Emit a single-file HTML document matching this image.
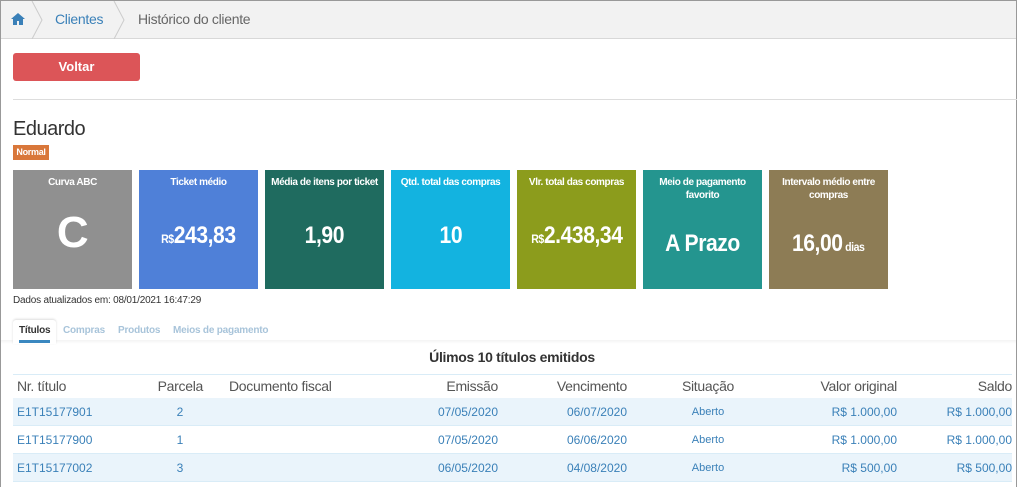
<!DOCTYPE html>
<html><head><meta charset="utf-8"><style>
*{margin:0;padding:0;box-sizing:border-box}
body{width:1024px;height:487px;overflow:hidden;background:#fff;font-family:"Liberation Sans",sans-serif;position:relative;color:#333}
.frame{position:absolute;left:0;top:0;width:1017px;height:487px;border:1px solid #999;border-bottom:none}
.bc{position:absolute;left:1px;top:1px;width:1015px;height:38px;background:#f2f2f2;border-bottom:1px solid #d8d8d8}
.a{position:absolute;font-size:14px;letter-spacing:-0.3px}
.card{position:absolute;top:170px;width:119px;height:119px;color:#fff;text-align:center}
.card .t{font-size:10px;font-weight:bold;margin-top:6px;line-height:13px;padding:0 6px;letter-spacing:-0.4px}
.card .v{position:absolute;left:0;right:0;font-weight:bold;font-size:24px;letter-spacing:-0.5px}
.card .v span{display:inline-block;transform:scaleX(.88)}
.card small{font-size:12px}
.row{position:absolute;left:13px;width:999px;height:28px;border-bottom:1px solid #d9ecf7}
.c{position:absolute;font-size:12px;color:#3a80b8;line-height:28px}
.h{position:absolute;font-size:14px;color:#555;line-height:23px;letter-spacing:-0.3px}
.tab{position:absolute;top:325px;font-size:10px;font-weight:bold;color:#a8c4da;letter-spacing:-0.2px}
</style></head><body>
<div class="frame"></div>
<div class="bc">
<svg style="position:absolute;left:10px;top:12px" width="14" height="12" viewBox="0 0 14 12"><path d="M7 0L0 6h2v6h4V8h2v4h4V6h2z" fill="#3a80b8"/></svg>
<svg style="position:absolute;left:30px;top:0" width="12" height="38"><path d="M1 0L11 19L1 38" stroke="#ccc" fill="none"/></svg>
<div class="a" style="left:54px;top:10px;color:#3a80b8">Clientes</div>
<svg style="position:absolute;left:112px;top:0" width="12" height="38"><path d="M1 0L11 19L1 38" stroke="#ccc" fill="none"/></svg>
<div class="a" style="left:137px;top:10px;color:#666">Histórico do cliente</div>
</div>
<div style="position:absolute;left:13px;top:53px;width:127px;height:28px;background:#dc5558;border-radius:3px;color:#fff;font-weight:bold;font-size:13px;text-align:center;line-height:28px">Voltar</div>
<div style="position:absolute;left:13px;top:99px;width:1004px;height:1px;background:#ddd"></div>
<div style="position:absolute;left:13px;top:118px;font-size:20px;color:#333;letter-spacing:-0.5px">Eduardo</div>
<div style="position:absolute;left:13px;top:145px;width:36px;height:15px;background:#d9773a;color:#fff;font-size:9px;font-weight:bold;line-height:15px;text-align:center;letter-spacing:-0.3px">Normal</div>
<div class="card" style="left:13px;background:#909090"><div class="t">Curva ABC</div><div class="v" style="top:38px;font-size:44px">C</div></div>
<div class="card" style="left:139px;background:#4f80d8"><div class="t">Ticket médio</div><div class="v" style="top:52px"><span><small>R$</small>243,83</span></div></div>
<div class="card" style="left:265px;background:#1f6b5f"><div class="t">Média de itens por ticket</div><div class="v" style="top:52px"><span>1,90</span></div></div>
<div class="card" style="left:391px;background:#13b3e0"><div class="t">Qtd. total das compras</div><div class="v" style="top:52px"><span>10</span></div></div>
<div class="card" style="left:517px;background:#8c9c1c"><div class="t">Vlr. total das compras</div><div class="v" style="top:52px"><span><small>R$</small>2.438,34</span></div></div>
<div class="card" style="left:643px;background:#24958f"><div class="t">Meio de pagamento favorito</div><div class="v" style="top:60px"><span>A Prazo</span></div></div>
<div class="card" style="left:769px;background:#8d7c55"><div class="t">Intervalo médio entre compras</div><div class="v" style="top:60px"><span>16,00<small> dias</small></span></div></div>
<div style="position:absolute;left:13px;top:295px;font-size:10px;color:#333;letter-spacing:-0.2px">Dados atualizados em: 08/01/2021 16:47:29</div>
<div style="position:absolute;left:1px;top:340px;width:1015px;height:4px;background:linear-gradient(#f4f4f4,#fff)"></div>
<div style="position:absolute;left:13px;top:320px;width:43px;height:24px;background:#fff;border-radius:3px 3px 0 0;box-shadow:0 -1px 2px #ddd"></div>
<div class="tab" style="left:19px;color:#333">Títulos</div>
<div style="position:absolute;left:19px;top:340px;width:31px;height:3px;background:#3a88c0"></div>
<div class="tab" style="left:63px">Compras</div>
<div class="tab" style="left:118px">Produtos</div>
<div class="tab" style="left:173px">Meios de pagamento</div>
<div style="position:absolute;left:0;width:1024px;top:349px;text-align:center;font-size:14px;font-weight:bold;color:#333;letter-spacing:-0.3px">Úlimos 10 títulos emitidos</div>
<div style="position:absolute;left:13px;top:374px;width:999px;height:1px;background:#d9ecf7"></div>
<div class="h" style="left:17px;top:375px">Nr. título</div>
<div class="h" style="left:140px;width:63px;text-align:right;top:375px">Parcela</div>
<div class="h" style="left:229px;top:375px">Documento fiscal</div>
<div class="h" style="left:398px;width:100px;text-align:right;top:375px">Emissão</div>
<div class="h" style="left:527px;width:100px;text-align:right;top:375px">Vencimento</div>
<div class="h" style="left:658px;width:100px;text-align:center;top:375px">Situação</div>
<div class="h" style="left:747px;width:150px;text-align:right;top:375px">Valor original</div>
<div class="h" style="left:862px;width:150px;text-align:right;top:375px">Saldo</div>
<div class="row" style="top:398px;background:#eaf4fb"></div>
<div class="row" style="top:426px"></div>
<div class="row" style="top:454px;background:#eaf4fb"></div>
<div class="c" style="left:17px;top:398px">E1T15177901</div><div class="c" style="left:170px;width:20px;text-align:center;top:398px">2</div><div class="c" style="left:398px;width:100px;text-align:right;top:398px">07/05/2020</div><div class="c" style="left:527px;width:100px;text-align:right;top:398px">06/07/2020</div><div class="c" style="left:658px;width:100px;text-align:center;top:398px;font-size:11px">Aberto</div><div class="c" style="left:747px;width:150px;text-align:right;top:398px">R$ 1.000,00</div><div class="c" style="left:862px;width:150px;text-align:right;top:398px">R$ 1.000,00</div>
<div class="c" style="left:17px;top:426px">E1T15177900</div><div class="c" style="left:170px;width:20px;text-align:center;top:426px">1</div><div class="c" style="left:398px;width:100px;text-align:right;top:426px">07/05/2020</div><div class="c" style="left:527px;width:100px;text-align:right;top:426px">06/06/2020</div><div class="c" style="left:658px;width:100px;text-align:center;top:426px;font-size:11px">Aberto</div><div class="c" style="left:747px;width:150px;text-align:right;top:426px">R$ 1.000,00</div><div class="c" style="left:862px;width:150px;text-align:right;top:426px">R$ 1.000,00</div>
<div class="c" style="left:17px;top:454px">E1T15177002</div><div class="c" style="left:170px;width:20px;text-align:center;top:454px">3</div><div class="c" style="left:398px;width:100px;text-align:right;top:454px">06/05/2020</div><div class="c" style="left:527px;width:100px;text-align:right;top:454px">04/08/2020</div><div class="c" style="left:658px;width:100px;text-align:center;top:454px;font-size:11px">Aberto</div><div class="c" style="left:747px;width:150px;text-align:right;top:454px">R$ 500,00</div><div class="c" style="left:862px;width:150px;text-align:right;top:454px">R$ 500,00</div>
</body></html>
